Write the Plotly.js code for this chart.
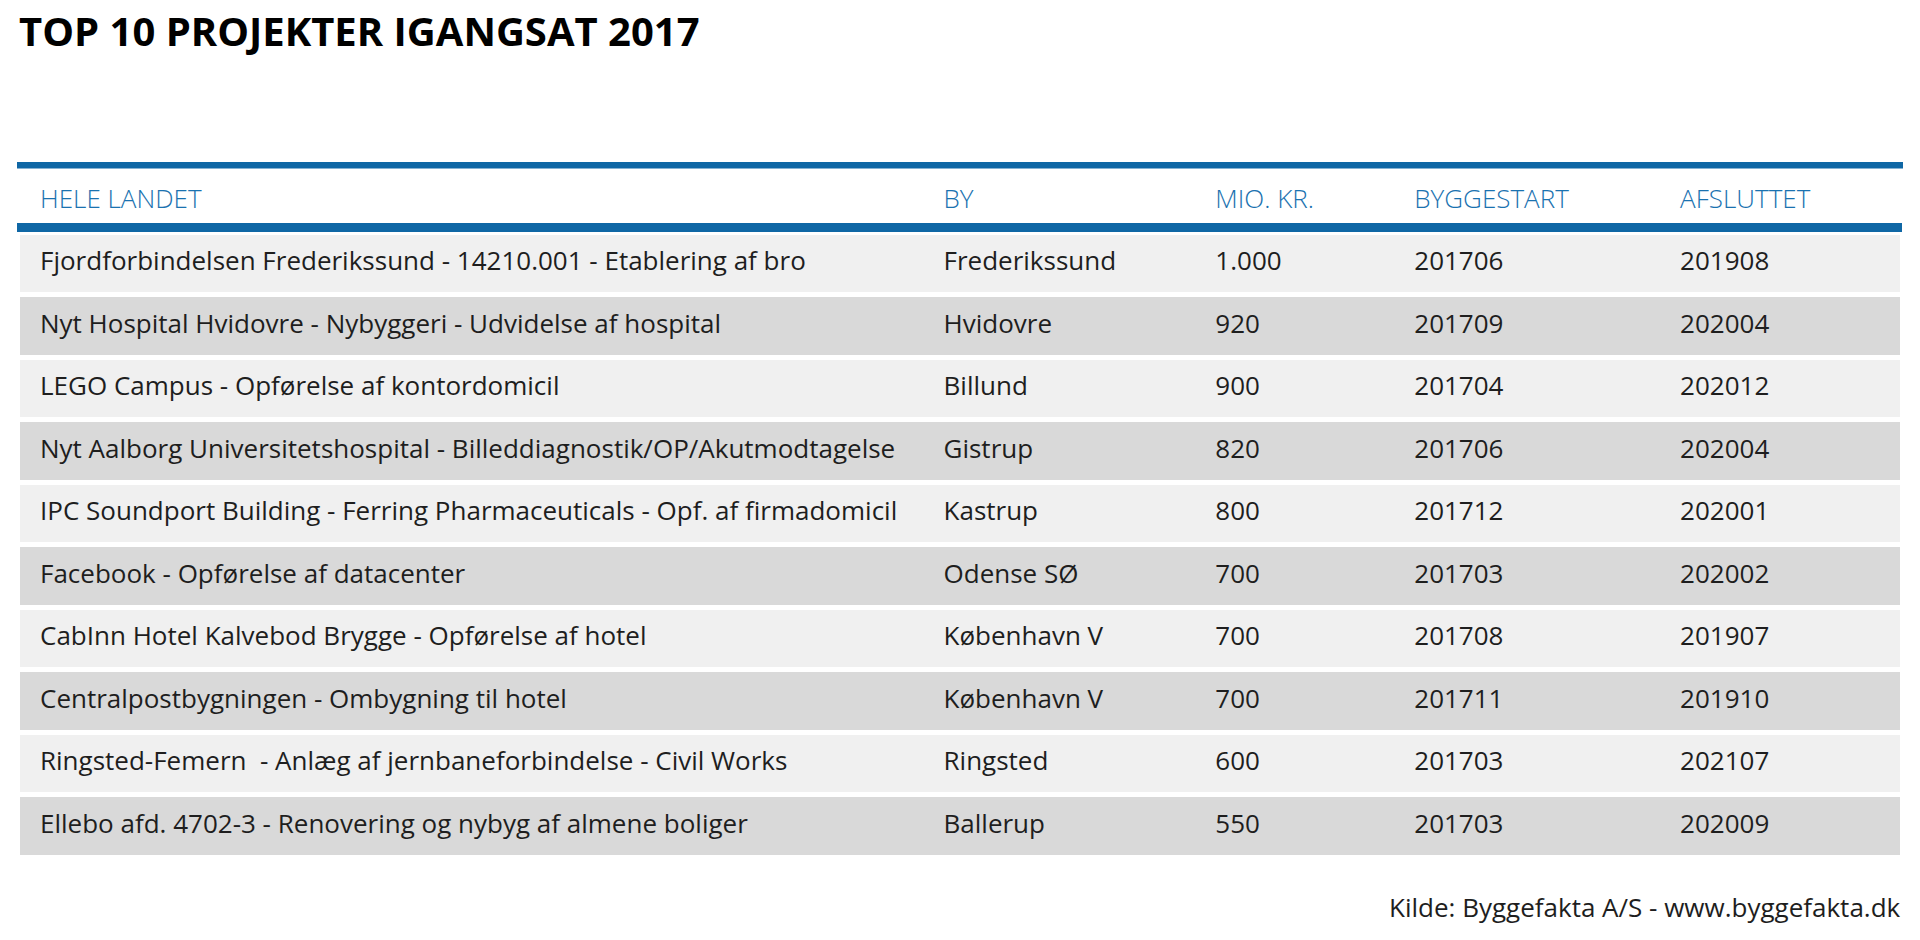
<!DOCTYPE html>
<html>
<head>
<meta charset="utf-8">
<script src="https://cdn.plot.ly/plotly-3.0.1.min.js"></script>
<style>html,body{margin:0;padding:0;background:#fff;}#chart{width:1920px;height:940px;}</style>
</head>
<body>
<div id="chart"></div>
<script>
// ---- data ----
var columnHeaders = ['HELE LANDET', 'BY', 'MIO. KR.', 'BYGGESTART', 'AFSLUTTET'];
var projects = [
  'Fjordforbindelsen Frederikssund - 14210.001 - Etablering af bro',
  'Nyt Hospital Hvidovre - Nybyggeri - Udvidelse af hospital',
  'LEGO Campus - Opførelse af kontordomicil',
  'Nyt Aalborg Universitetshospital - Billeddiagnostik/OP/Akutmodtagelse',
  'IPC Soundport Building - Ferring Pharmaceuticals - Opf. af firmadomicil',
  'Facebook - Opførelse af datacenter',
  'CabInn Hotel Kalvebod Brygge - Opførelse af hotel',
  'Centralpostbygningen - Ombygning til hotel',
  'Ringsted-Femern  - Anlæg af jernbaneforbindelse - Civil Works',
  'Ellebo afd. 4702-3 - Renovering og nybyg af almene boliger'
];
var cities = ['Frederikssund', 'Hvidovre', 'Billund', 'Gistrup', 'Kastrup', 'Odense SØ', 'København V', 'København V', 'Ringsted', 'Ballerup'];
var amounts = [1000, 920, 900, 820, 800, 700, 700, 700, 600, 550];
var starts = ['201706', '201709', '201704', '201706', '201712', '201703', '201708', '201711', '201703', '201703'];
var ends = ['201908', '202004', '202012', '202004', '202001', '202002', '201907', '201910', '202107', '202009'];
var titleText = 'TOP 10 PROJEKTER IGANGSAT 2017';
var sourceText = 'Kilde: Byggefakta A/S - www.byggefakta.dk';

// ---- layout constants (pixels) ----
var W = 1920, H = 940;
var FONT = '"Open Sans", "Noto Sans", sans-serif';
var FS = 26;
var BLUE = '#0f67a5';
var HEAD_BLUE = '#1a72b0';
var LIGHT = '#f0f0f0', DARK = '#d9d9d9';
var ROW_H = 62.5;
var colWidths = [904, 272, 199, 266, 229];
var textTop = 180;       // top of text table
var bgTop = 223;         // top of background table (blue header band)

function px2x(p) { return p / W; }
function px2y(p) { return 1 - p / H; }

// Danish thousands separator
function daNum(v) { return String(v).replace(/\B(?=(\d{3})+(?!\d))/g, '.'); }

var rowFills = projects.map(function (_, i) { return i % 2 ? DARK : LIGHT; });

var background = {
  type: 'table',
  domain: { x: [px2x(17), px2x(1903)], y: [0, px2y(bgTop)] },
  columnwidth: [1],
  header: {
    values: [''],
    height: 9,
    fill: { color: BLUE },
    line: { width: 0, color: BLUE },
    font: { size: 2 }
  },
  cells: {
    values: [projects.map(function () { return ''; })],
    height: ROW_H,
    fill: { color: [rowFills] },
    line: { width: 5, color: '#ffffff' },
    font: { size: 2 }
  },
  hoverinfo: 'skip'
};

var textTable = {
  type: 'table',
  domain: { x: [px2x(32), px2x(1902)], y: [0, px2y(textTop)] },
  columnwidth: colWidths,
  header: {
    values: columnHeaders,
    height: ROW_H,
    align: 'left',
    fill: { color: 'rgba(0,0,0,0)' },
    line: { width: 0, color: 'rgba(0,0,0,0)' },
    font: { family: FONT, size: FS, color: HEAD_BLUE, weight: 300 }
  },
  cells: {
    values: [projects, cities, amounts.map(daNum), starts, ends],
    height: ROW_H,
    align: 'left',
    fill: { color: 'rgba(0,0,0,0)' },
    line: { width: 0, color: 'rgba(0,0,0,0)' },
    font: { family: FONT, size: FS, color: '#1e1e1e' }
  }
};

var layout = {
  width: W, height: H,
  autosize: false,
  margin: { l: 0, r: 0, t: 0, b: 0 },
  paper_bgcolor: '#ffffff',
  font: { family: FONT },
  title: {
    text: '<b>' + titleText + '</b>',
    x: px2x(19), xanchor: 'left', xref: 'container',
    y: px2y(32), yanchor: 'middle', yref: 'container',
    font: { family: FONT, size: 40, color: '#000000' }
  },
  shapes: [
    { type: 'rect', xref: 'paper', yref: 'paper', x0: px2x(17), x1: px2x(1903), y0: px2y(162), y1: px2y(168.5), fillcolor: BLUE, line: { width: 0 }, layer: 'below' }
  ],
  annotations: [
    { text: sourceText, xref: 'paper', yref: 'paper', x: px2x(1903), xanchor: 'right', y: px2y(907), yanchor: 'middle', showarrow: false, font: { family: FONT, size: FS, color: '#1e1e1e' } }
  ]
};

Plotly.newPlot('chart', [background, textTable], layout, { displayModeBar: false, staticPlot: true });
</script>
</body>
</html>
